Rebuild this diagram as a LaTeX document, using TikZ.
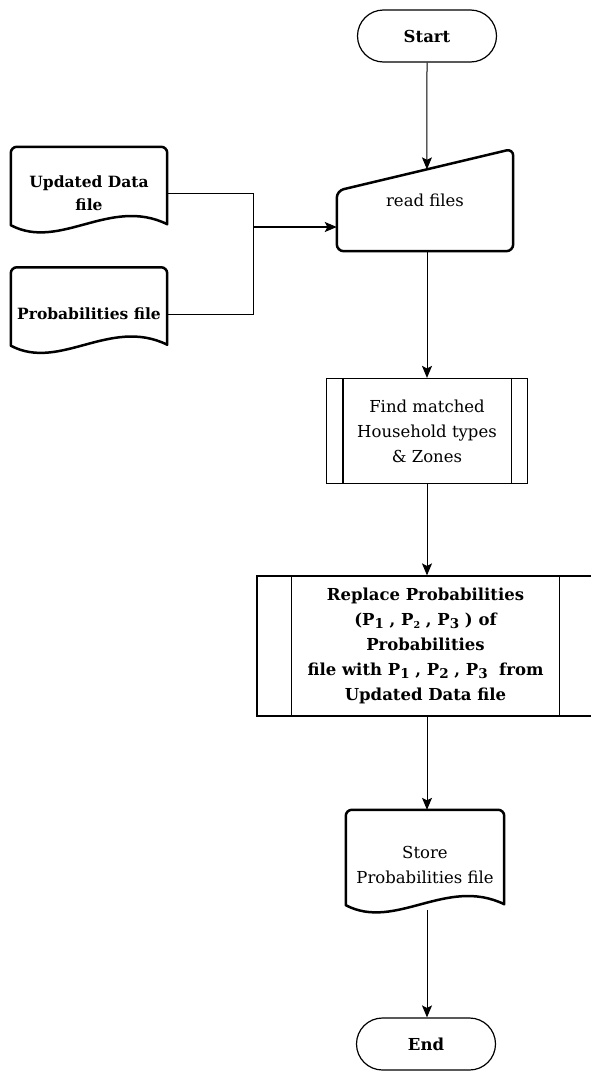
\documentclass[tikz,border=0pt]{standalone}
\usepackage{fontspec}
\setmainfont{DejaVu Serif}
\usetikzlibrary{arrows.meta,calc}

% subscripts of the probability labels
\newcommand\bigsub[1]{\raisebox{-0.35ex}{\fontsize{13.5}{13.5}\selectfont #1}}
\newcommand\smallsub[1]{\raisebox{-0.35ex}{\fontsize{9.5}{9.5}\selectfont #1}}

% document symbol drawn around a named node (wavy bottom edge)
\newcommand\docoutline[1]{%
  \draw[docline] let \p1=(#1.south west), \p2=(#1.north east), \n1={\x2-\x1} in
    (\x1,\y1+15pt) -- (\x1,\y2-6pt) arc[start angle=180,end angle=90,radius=6pt]
    -- (\x2-6pt,\y2) arc[start angle=90,end angle=0,radius=6pt]
    -- (\x2,\y1+16pt)
    .. controls (\x1+0.635*\n1,\y1+44pt) and (\x1+0.314*\n1,\y1-11pt) .. (\x1,\y1+15pt)
    -- cycle;}

\begin{document}
\begin{tikzpicture}[x=1pt,y=-1pt,
  every node/.style={inner sep=0pt, align=center, text=black},
  txt/.style={font=\fontsize{16.5}{25}\selectfont},
  btxt/.style={font=\fontsize{16.5}{25}\selectfont\bfseries},
  term/.style={btxt, draw, line width=1.2pt, rounded corners=26pt,
    minimum width=139pt, minimum height=52pt},
  docbox/.style={minimum width=#1, minimum height=93pt},
  docline/.style={line width=2.5pt, line join=round},
  pproc/.style={draw, line width=1.2pt},
  conn/.style={line width=1pt, -{Stealth[length=12pt,width=10pt,inset=2.5pt]}},
  wire/.style={line width=1pt}
]
\useasboundingbox (0,0) rectangle (591,1071);

% terminals
\node[term] (start) at (427,36) {Start};
\node[term] (end) at (426,1044) {End};

% manual input
\node[txt, minimum width=176pt, minimum height=102pt] (rf) at (425,200) {read files};
\draw[line width=2.5pt, rounded corners=7pt]
  (rf.south west) -- ([yshift=-42pt]rf.north west) -- (rf.north east)
  -- (rf.south east) -- cycle;
\coordinate (rftop) at ($([yshift=-42pt]rf.north west)!0.511!(rf.north east)$);

% input documents
\node[btxt, font=\fontsize{15.5}{23}\selectfont\bfseries, docbox=156pt] (ud) at (89,193.5) {Updated Data\\file};
\docoutline{ud}
\node[btxt, font=\fontsize{15.5}{23}\selectfont\bfseries, docbox=156pt] (pf) at (89,314) {Probabilities file};
\docoutline{pf}

% predefined processes
\node[txt, pproc, minimum width=201pt, minimum height=105pt] (find) at (427,431)
  {Find matched\\Household types\\\& Zones};
\draw[pproc] ([xshift=17pt]find.north west) -- ([xshift=17pt]find.south west);
\draw[pproc] ([xshift=-17pt]find.north east) -- ([xshift=-17pt]find.south east);

\node[btxt, pproc, minimum width=337pt, minimum height=140pt] (rp) at (425.5,646)
  {Replace Probabilities\\
   (P\bigsub{1} , P\smallsub{2} , P\bigsub{3} ) of\\
   Probabilities\\
   file with P\bigsub{1} , P\bigsub{2} , P\bigsub{3}~ from\\
   Updated Data file};
\draw[pproc] ([xshift=35pt]rp.north west) -- ([xshift=35pt]rp.south west);
\draw[pproc] ([xshift=-35pt]rp.north east) -- ([xshift=-35pt]rp.south east);

% output document
\node[txt, docbox=158pt, minimum height=110pt] (store) at (425,865) {Store\\Probabilities file};
\docoutline{store}

% connectors
\coordinate (j) at (253,227);
\draw[wire] (ud.east) -| (j);
\draw[wire] (pf.east) -| (j);
\draw[conn, line width=1.4pt] (j) -- (rf.west |- j);

\draw[conn] (start.south) -- (rftop);
\draw[conn] (rf.south -| start.south) -- (find.north -| start.south);
\draw[conn] (find.south -| start.south) -- (rp.north -| start.south);
\draw[conn] (rp.south -| start.south) -- (store.north -| start.south);
\draw[conn] ([yshift=10pt]store.south -| start.south) -- (end.north -| start.south);
\end{tikzpicture}
\end{document}
